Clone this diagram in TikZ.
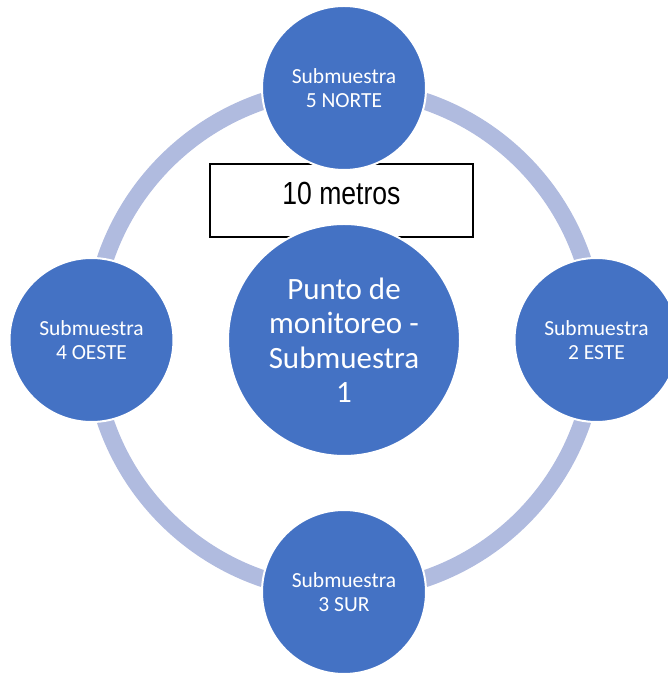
\documentclass[tikz,border=0pt]{standalone}
\usepackage{fontspec}
\setmainfont{Carlito}
\newfontfamily\boxfont[FakeStretch=0.83]{Liberation Sans}
\definecolor{puntoazul}{HTML}{4472C4}
\definecolor{anillo}{HTML}{B0BBDF}
\begin{document}
\begin{tikzpicture}[x=1pt, y=1pt,
		punto/.style={circle, fill=puntoazul, draw=white, line width=2pt, inner sep=0pt, text=white, align=center},
		sub/.style={punto, minimum size=164pt, font=\fontsize{21.5}{24}\selectfont},
		medida/.style={draw=black, fill=white, line width=1.3pt, inner sep=0pt, minimum width=263pt, minimum height=73pt, text height=41pt, text depth=32pt, font=\boxfont\fontsize{32}{36}\selectfont}]
	\useasboundingbox (0,0) rectangle (668,675);
	\coordinate (c) at (344,335);
	\draw[anillo, line width=17pt] (c) circle[radius=252pt];
	\node[medida] (metros) at (341.5,474.5) {10 metros};
	\node[punto, minimum size=232pt, font=\fontsize{31}{34.5}\selectfont] (centro) at (c) {Punto de\\monitoreo -\\Submuestra\\1};
	\node[sub] (norte) at (344,587) {Submuestra\\5 NORTE};
	\node[sub] (este) at (596.5,335) {Submuestra\\2 ESTE};
	\node[sub] (sur) at (344,83) {Submuestra\\3 SUR};
	\node[sub] (oeste) at (91.5,335) {Submuestra\\4 OESTE};
\end{tikzpicture}
\end{document}
